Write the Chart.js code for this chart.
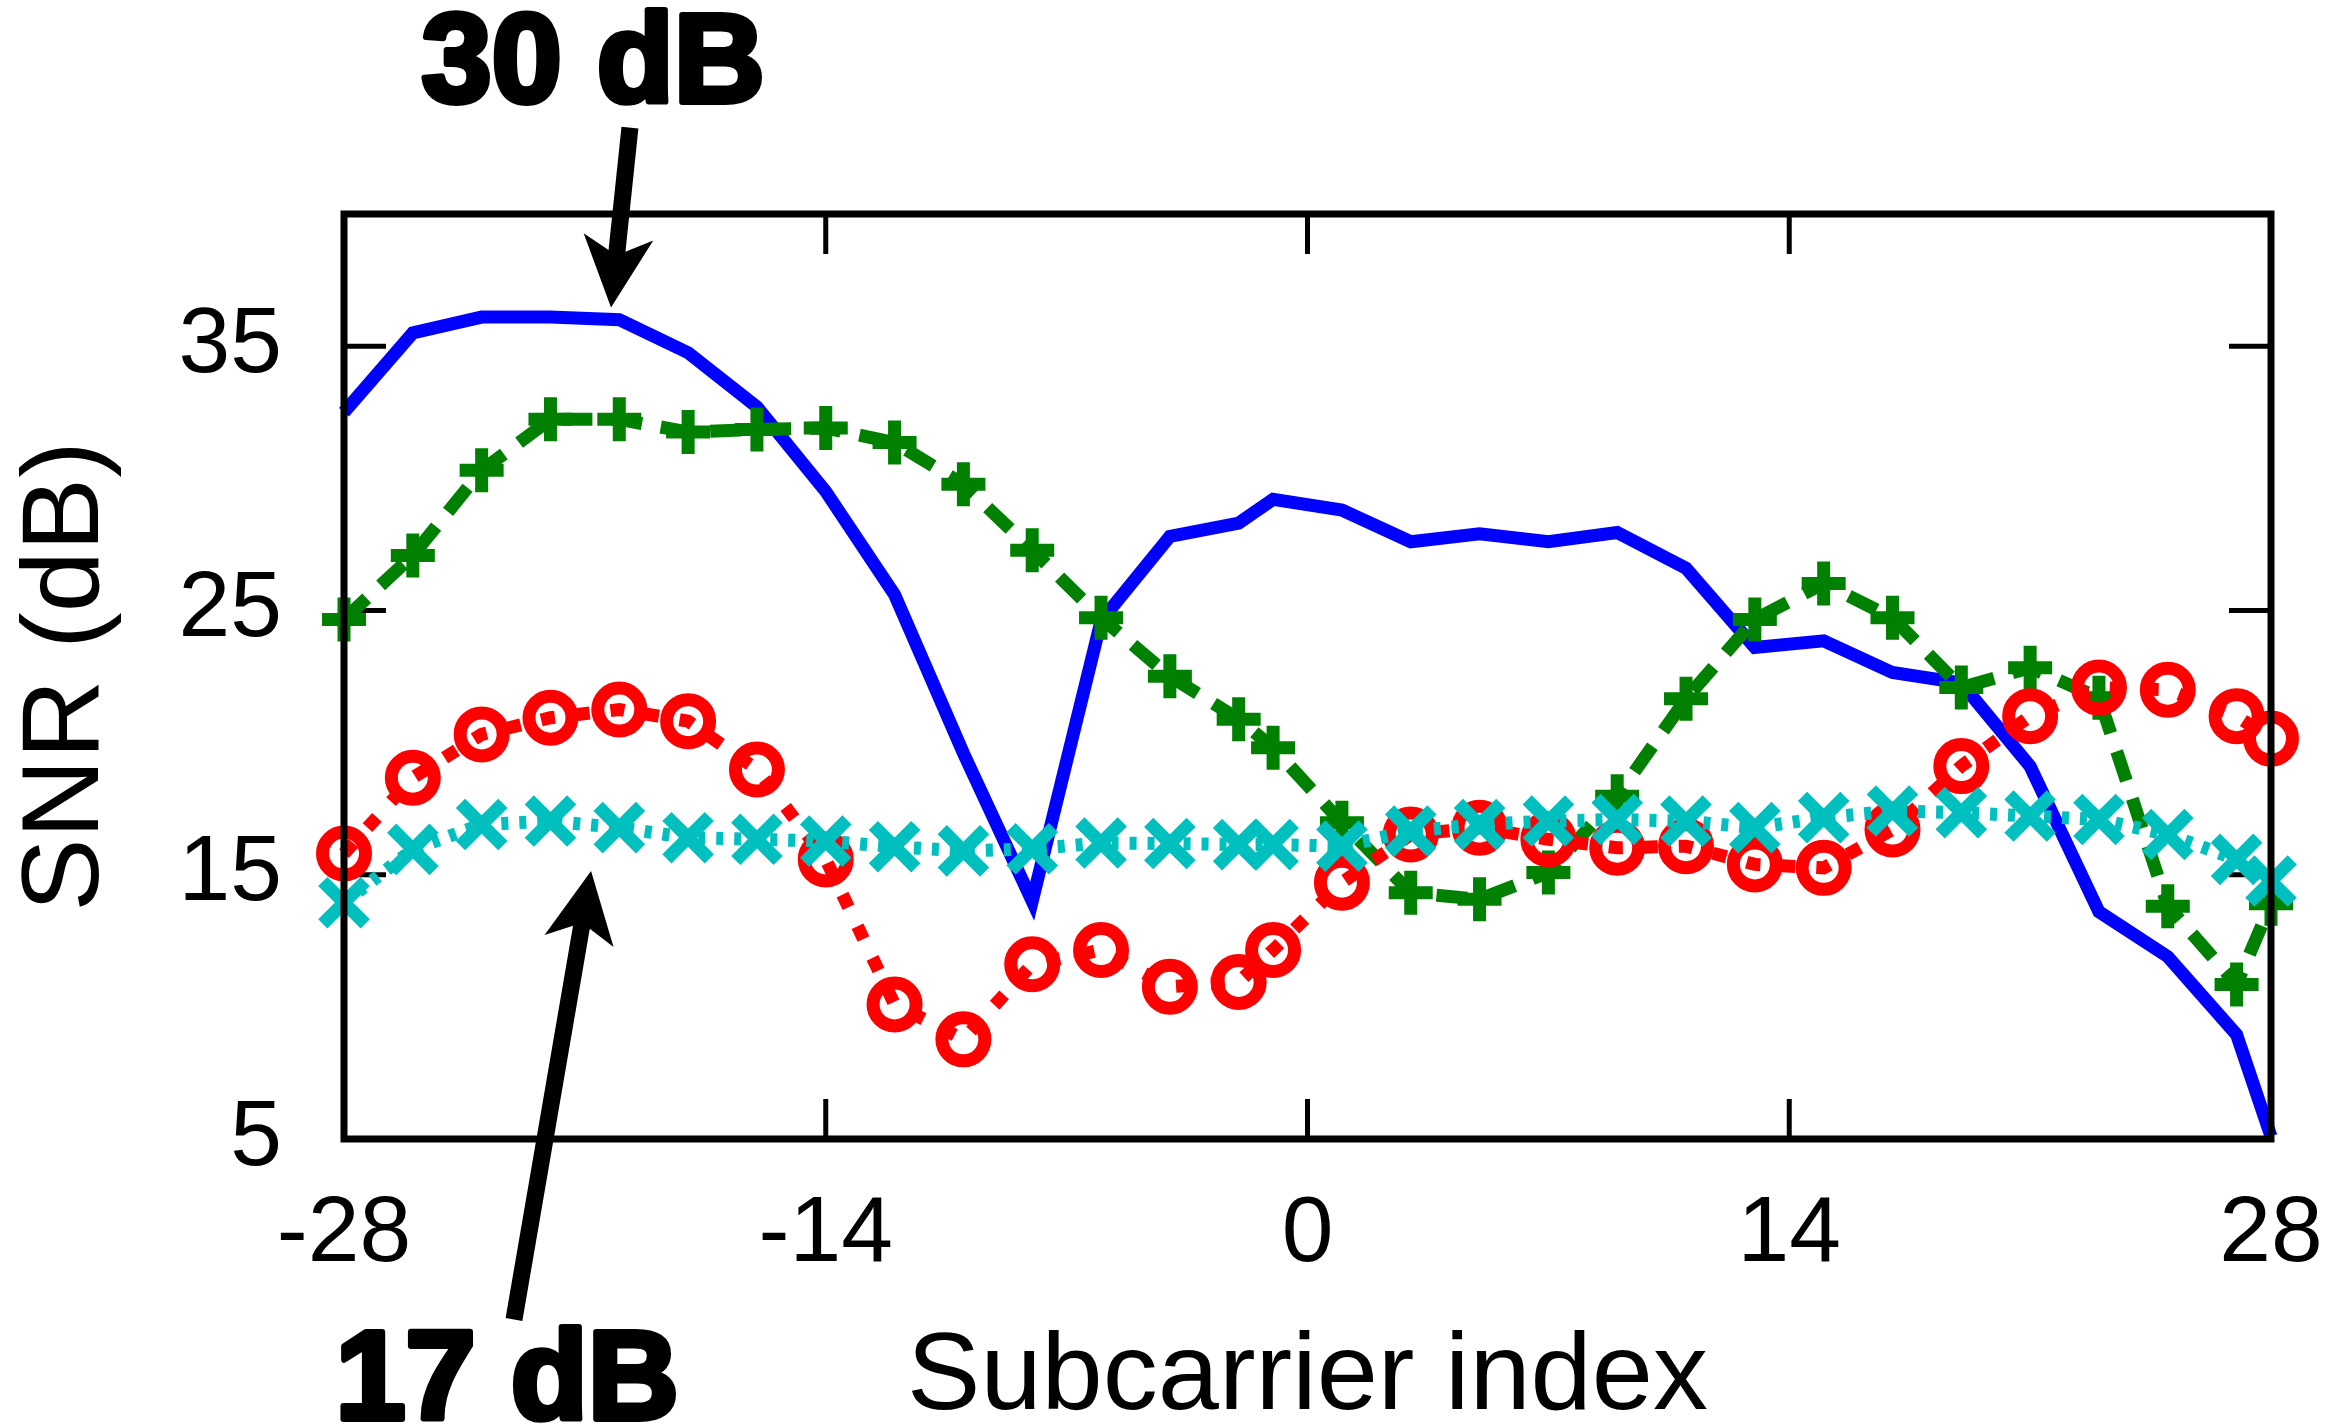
<!DOCTYPE html>
<html><head><meta charset="utf-8">
<style>html,body{margin:0;padding:0;background:#fff}canvas{display:block}</style>
<script src="https://cdn.jsdelivr.net/npm/chart.js@4.4.1/dist/chart.umd.min.js"></script>
</head><body>
<canvas id="c" width="2337" height="1427"></canvas>
<script>
// ---- data ----
const subcarriers = [-28,-26,-24,-22,-20,-18,-16,-14,-12,-10,-8,-6,-4,-2,-1,1,3,5,7,9,11,13,15,17,19,21,23,25,27,28];
const snrBlue  = [32.5,35.5,36.1,36.1,36.0,34.75,32.7,29.5,25.6,19.6,14.0,24.6,27.8,28.3,29.2,28.8,27.6,27.9,27.6,27.95,26.6,23.6,23.85,22.65,22.25,19.1,13.6,11.9,8.95,5.1];
const snrGreen = [24.66,27.08,30.3,32.23,32.23,31.75,31.85,31.9,31.35,29.77,27.28,24.72,22.51,20.88,19.8,16.97,14.32,14.07,15.08,17.97,21.66,24.66,26.02,24.72,22.08,22.83,21.7,13.81,10.85,13.9];
const snrRed   = [15.8,18.67,20.31,20.94,21.25,20.81,18.98,15.58,10.09,8.77,11.61,12.15,10.76,10.94,12.15,14.7,16.52,16.78,16.34,16.02,16.08,15.39,15.26,16.71,19.11,21.0,22.08,22.0,21.0,20.15];
const snrCyan  = [13.94,15.96,16.9,17.03,16.78,16.4,16.34,16.27,16.06,15.9,15.98,16.2,16.18,16.14,16.14,16.08,16.65,16.9,17.03,17.09,17.03,16.78,17.16,17.41,17.35,17.22,17.09,16.52,15.58,14.76];
const xTicks = [-28,-14,0,14,28];
const yTicks = [5,15,25,35];
const xTitle = 'Subcarrier index';
const yTitle = 'SNR (dB)';
const noteLabels = ['30 dB', '17 dB'];

// annotation geometry (in data units)
const arrowDefs = [
  {from: [-19.69, 43.27], to: [-20.24, 36.46]},
  {from: [-23.06, -1.83], to: [-20.82, 15.14]}
];
const labelDefs = [
  {at: [-20.76, 44.14]},
  {at: [-23.26, -5.72]}
];

const FONT = '"Liberation Sans", Arial, Helvetica, sans-serif';
const pts = arr => subcarriers.map((s, i) => ({x: s, y: arr[i]}));

function drawArrow(ctx, x1, y1, x2, y2) {
  const dx = x2 - x1, dy = y2 - y1, len = Math.hypot(dx, dy);
  const ux = dx / len, uy = dy / len, nx = -uy, ny = ux;
  const s = 8.5, L = 71, W = 35, N = 57;
  const nkx = x2 - ux * N, nky = y2 - uy * N;
  const wx = x2 - ux * L, wy = y2 - uy * L;
  ctx.beginPath();
  ctx.moveTo(x1 + nx * s, y1 + ny * s);
  ctx.lineTo(nkx + nx * s, nky + ny * s);
  ctx.lineTo(wx + nx * W, wy + ny * W);
  ctx.lineTo(x2, y2);
  ctx.lineTo(wx - nx * W, wy - ny * W);
  ctx.lineTo(nkx - nx * s, nky - ny * s);
  ctx.lineTo(x1 - nx * s, y1 - ny * s);
  ctx.closePath();
  ctx.fill();
}

const innerTicks = {
  id: 'innerTicks',
  beforeDatasetsDraw(chart) {
    const {ctx, chartArea: a, scales: {x, y}} = chart;
    ctx.save();
    ctx.strokeStyle = '#000';
    ctx.lineWidth = 5;
    ctx.beginPath();
    xTicks.forEach(v => {
      const px = x.getPixelForValue(v);
      ctx.moveTo(px, a.bottom); ctx.lineTo(px, a.bottom - 40);
      ctx.moveTo(px, a.top); ctx.lineTo(px, a.top + 40);
    });
    yTicks.forEach(v => {
      const py = y.getPixelForValue(v);
      ctx.moveTo(a.left, py); ctx.lineTo(a.left + 42, py);
      ctx.moveTo(a.right, py); ctx.lineTo(a.right - 42, py);
    });
    ctx.stroke();
    ctx.restore();
  },
  afterDatasetsDraw(chart) {
    const {ctx, chartArea: a} = chart;
    ctx.save();
    ctx.strokeStyle = '#000';
    ctx.lineWidth = 7;
    ctx.strokeRect(a.left, a.top, a.right - a.left, a.bottom - a.top);
    ctx.restore();
  }
};

const notes = {
  id: 'notes',
  afterDraw(chart) {
    const {ctx, scales: {x, y}} = chart;
    ctx.save();
    ctx.fillStyle = '#000';
    ctx.strokeStyle = '#000';
    arrowDefs.forEach(a => drawArrow(ctx,
      x.getPixelForValue(a.from[0]), y.getPixelForValue(a.from[1]),
      x.getPixelForValue(a.to[0]), y.getPixelForValue(a.to[1])));
    ctx.font = 'bold 126px ' + FONT;
    ctx.textAlign = 'center';
    ctx.textBaseline = 'alphabetic';
    ctx.lineWidth = 6;
    ctx.lineJoin = 'round';
    labelDefs.forEach((l, i) => {
      const px = x.getPixelForValue(l.at[0]), py = y.getPixelForValue(l.at[1]);
      ctx.strokeText(noteLabels[i], px, py - 3);
      ctx.fillText(noteLabels[i], px, py - 3);
    });
    ctx.restore();
  }
};

new Chart(document.getElementById('c'), {
  type: 'line',
  data: {
    datasets: [
      {data: pts(snrCyan), borderColor: '#00BFBF', borderWidth: 13, borderDash: [7, 11],
       pointStyle: 'crossRot', pointRadius: 30, pointBorderWidth: 13, pointBorderColor: '#00BFBF',
       pointBackgroundColor: 'rgba(0,0,0,0)', clip: false, tension: 0},
      {data: pts(snrRed), borderColor: '#FF0000', borderWidth: 13, borderDash: [14, 21],
       pointStyle: 'circle', pointRadius: 21.5, pointBorderWidth: 13, pointBorderColor: '#FF0000',
       pointBackgroundColor: 'rgba(0,0,0,0)', clip: false, tension: 0},
      {data: pts(snrGreen), borderColor: '#008000', borderWidth: 13, borderDash: [31, 19],
       pointStyle: 'cross', pointRadius: 22, pointBorderWidth: 13, pointBorderColor: '#008000',
       pointBackgroundColor: 'rgba(0,0,0,0)', clip: false, tension: 0},
      {data: pts(snrBlue), borderColor: '#0000FF', borderWidth: 13, pointRadius: 0,
       borderJoinStyle: 'miter', clip: false, tension: 0}
    ]
  },
  options: {
    responsive: false,
    animation: false,
    devicePixelRatio: 1,
    events: [],
    layout: {padding: {top: 214, right: 66, bottom: 0, left: 0}},
    plugins: {legend: {display: false}, tooltip: {enabled: false}},
    scales: {
      x: {
        type: 'linear', min: -28, max: 28,
        grid: {display: false, drawTicks: false},
        border: {display: false},
        afterBuildTicks: s => { s.ticks = xTicks.map(v => ({value: v})); },
        afterFit: s => { s.height = 288; },
        ticks: {font: {family: FONT, size: 93, lineHeight: 2.07}, color: '#000', padding: 0,
                maxRotation: 0, autoSkip: false},
        title: {display: true, text: xTitle, color: '#000',
                font: {family: FONT, size: 110, lineHeight: 0.8}, padding: {top: 0, bottom: 4}}
      },
      y: {
        type: 'linear', min: 5, max: 40,
        grid: {display: false, drawTicks: false},
        border: {display: false},
        afterBuildTicks: s => { s.ticks = yTicks.map(v => ({value: v})); },
        afterFit: s => { s.width = 344; },
        ticks: {font: {family: FONT, size: 93, lineHeight: 1.2}, color: '#000', padding: 62},
        title: {display: true, text: yTitle, color: '#000',
                font: {family: FONT, size: 110, lineHeight: 0.8}, padding: {top: 24, bottom: 0}}
      }
    }
  },
  plugins: [innerTicks, notes]
});
</script>
</body></html>
